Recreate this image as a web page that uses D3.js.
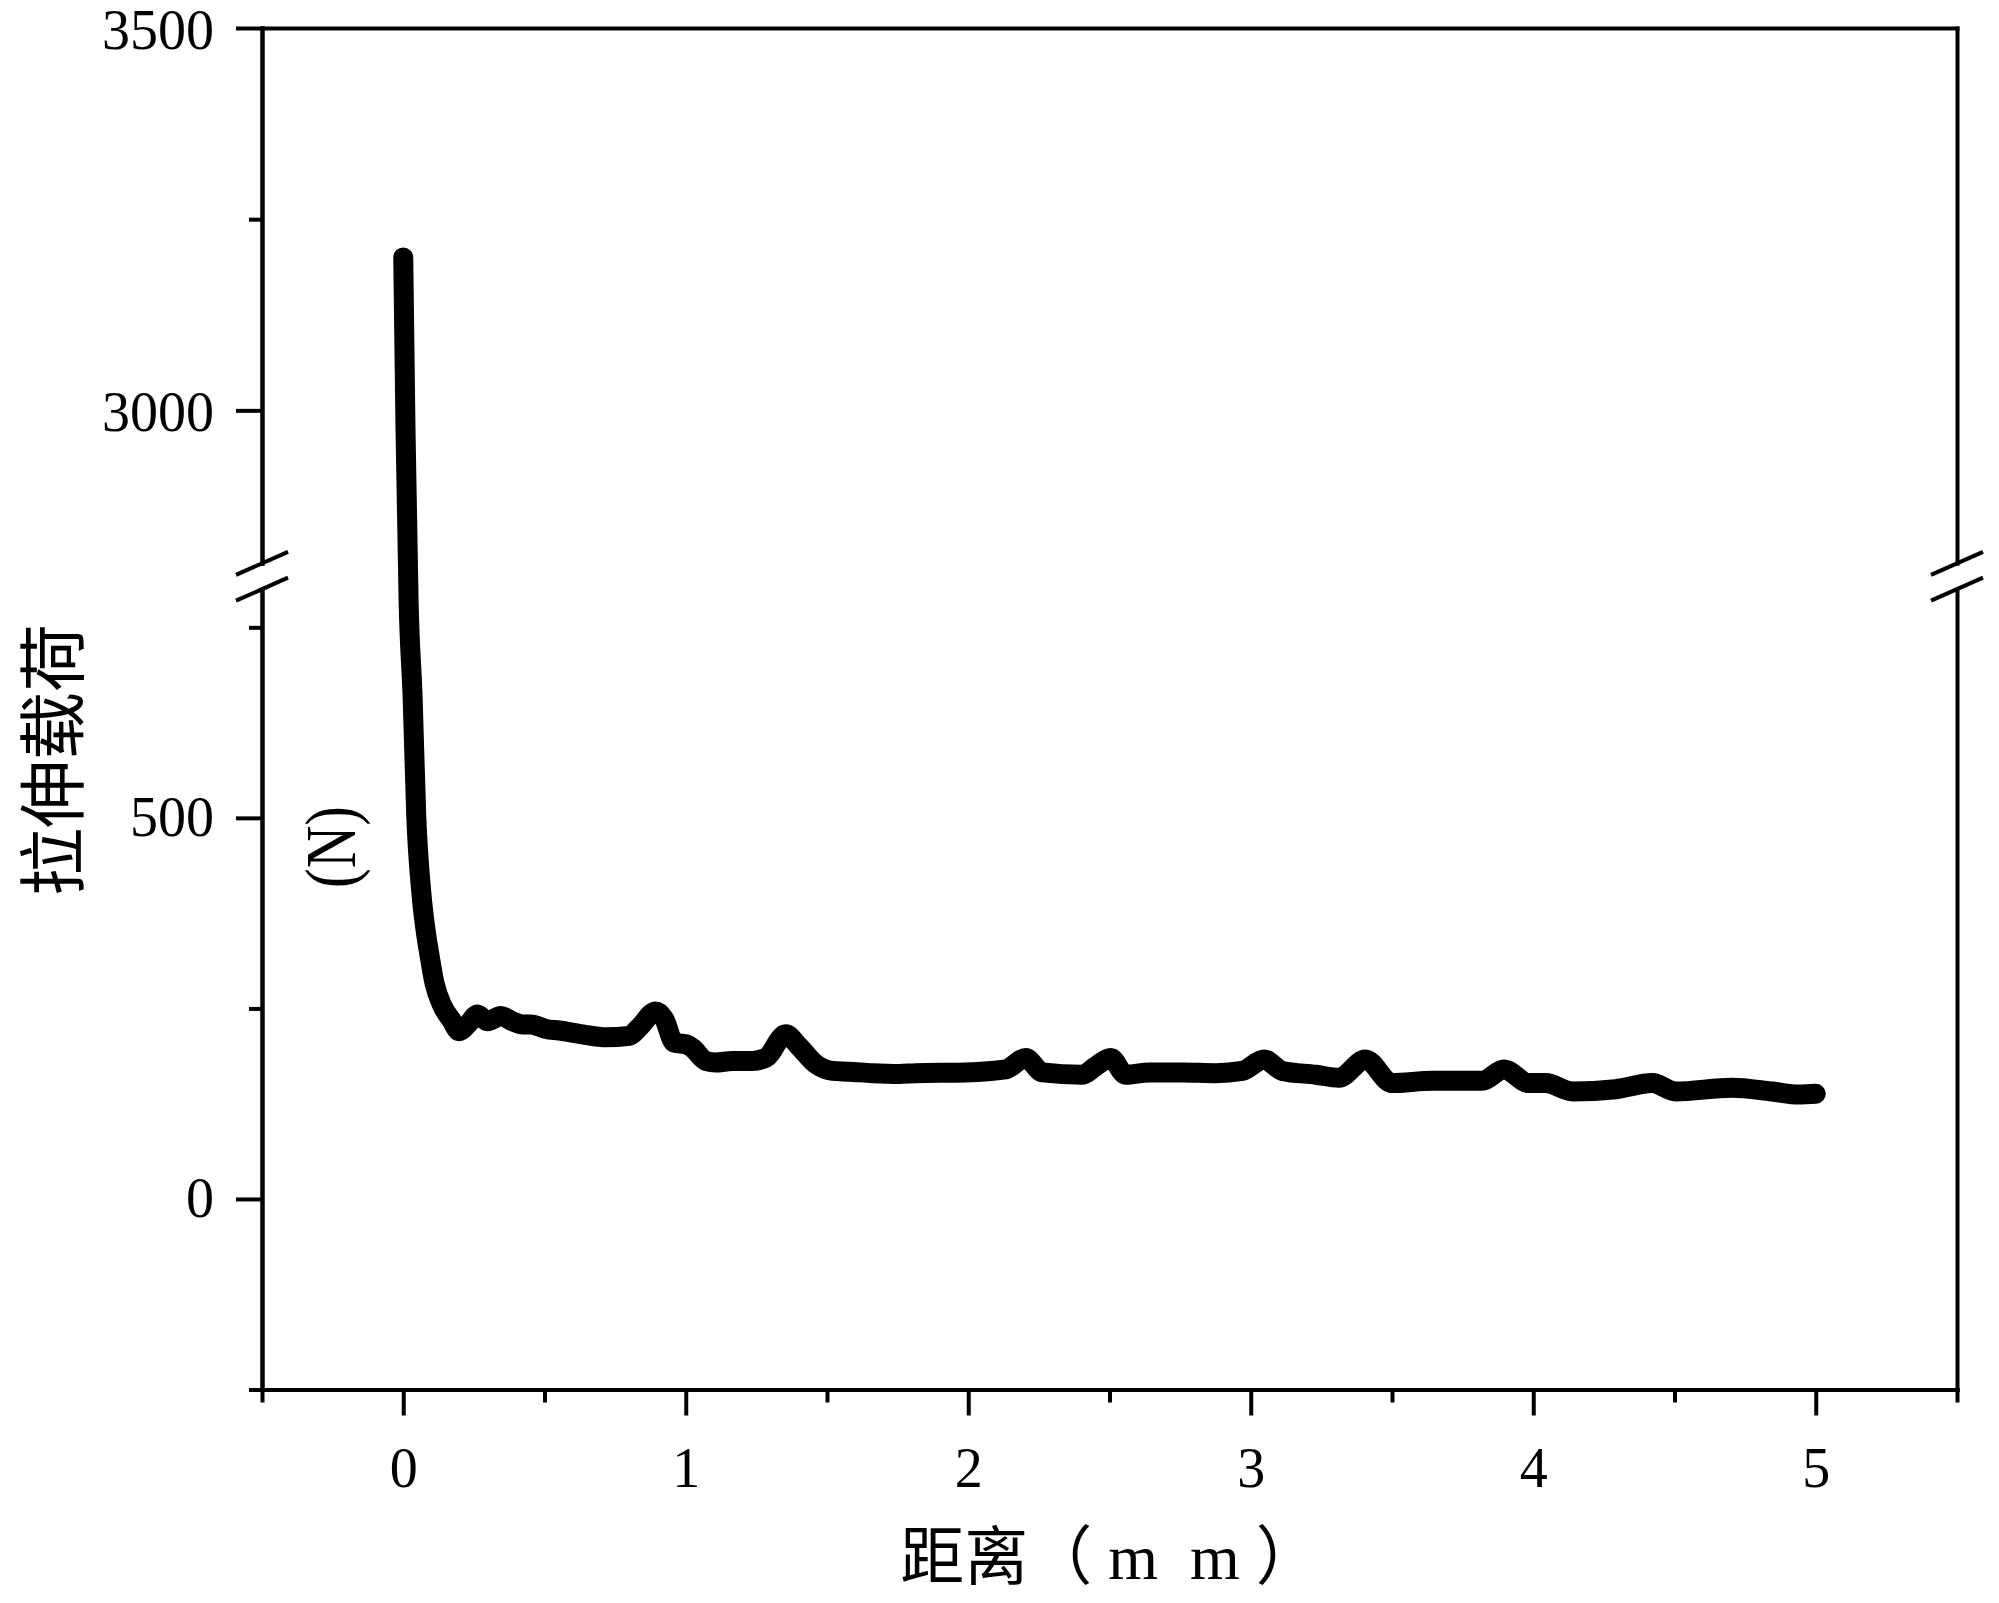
<!DOCTYPE html>
<html>
<head>
<meta charset="utf-8">
<script src="https://cdn.jsdelivr.net/npm/d3@7"></script>
<style>
  html, body { margin: 0; padding: 0; background: #fff; }
  svg { display: block; }
</style>
</head>
<body>
<svg id="chart" width="1999" height="1603"></svg>
<script>
// ---------------- data ----------------
const distance = [0.000, 0.008, 0.019, 0.033, 0.046, 0.064, 0.080, 0.092, 0.110, 0.139,
  0.170, 0.198, 0.228, 0.263, 0.298, 0.346, 0.387, 0.422, 0.452, 0.505,
  0.552, 0.634, 0.717, 0.800, 0.835, 0.894, 0.924, 0.959, 1.000, 1.024,
  1.071, 1.106, 1.165, 1.236, 1.283, 1.354, 1.401, 1.460, 1.519, 1.578,
  1.661, 1.755, 1.814, 1.991, 2.132, 2.203, 2.262, 2.404, 2.451, 2.504,
  2.557, 2.640, 2.758, 2.876, 2.970, 3.047, 3.112, 3.230, 3.312, 3.406,
  3.500, 3.642, 3.819, 3.896, 3.985, 4.044, 4.139, 4.292, 4.421, 4.504,
  4.704, 4.845, 4.940, 5.000];
const load = [3200, 2975, 783, 660, 503, 402, 350, 322, 284, 253,
  235, 220, 229, 242, 233, 240, 233, 229, 229, 223,
  221, 216, 212, 214, 225, 246, 236, 205, 203, 198,
  181, 179, 181, 181, 185, 216, 200, 177, 168, 167,
  165, 164, 165, 166, 170, 185, 166, 163, 174, 185,
  163, 166, 166, 165, 168, 183, 168, 163, 159, 183,
  152, 155, 155, 170, 152, 152, 141, 144, 152, 141,
  146, 141, 137, 138];

const xMajorTicks = [0, 1, 2, 3, 4, 5];
const xMinorTicks = [-0.5, 0.5, 1.5, 2.5, 3.5, 4.5, 5.5];
const yLowerMajor = [0, 500];
const yLowerMinor = [-250, 250, 750];
const yUpperMajor = [3000, 3500];
const yUpperMinor = [3250];
const xTitle = "距离（ m  m ）";
const yTitle = "拉伸载荷";
const yUnit = "(N)";

// ---------------- layout ----------------
const plotL = 262, plotR = 1957, plotT = 28, plotB = 1389.5;
const lowerTopPx = 589.2, upperBottomPx = 563.3;
const serif = "'Liberation Serif', 'DejaVu Serif', serif";
const cjk = "'Liberation Serif', 'Noto Sans CJK SC', sans-serif";

const svg = d3.select("#chart");
svg.append("rect").attr("width", 1999).attr("height", 1603).attr("fill", "#fff");

const x = d3.scaleLinear().domain([-0.5, 5.5]).range([plotL, plotR]);
const yLower = d3.scaleLinear().domain([-250, 800]).range([plotB, lowerTopPx]);
const yUpper = d3.scaleLinear().domain([2800, 3500]).range([upperBottomPx, plotT]);
const gapScale = d3.scaleLinear().domain([800, 2800]).range([lowerTopPx, upperBottomPx]);
function yPix(v) {
  if (v >= 2800) return yUpper(v);
  if (v <= 800) return yLower(v);
  return gapScale(v);
}

const axisW = 4;
function styleAxis(g, fontSize) {
  g.selectAll("line").attr("stroke", "#000").attr("stroke-width", axisW);
  g.selectAll("path.domain").attr("stroke", "#000").attr("stroke-width", axisW).attr("stroke-linecap", "square");
  g.selectAll("text").attr("fill", "#000").style("font-family", serif).style("font-size", fontSize + "px");
}

// ---- x axis ----
const gxMinor = svg.append("g").attr("transform", `translate(0,${plotB})`)
  .call(d3.axisBottom(x).tickValues(xMinorTicks).tickSize(13).tickSizeOuter(0).tickFormat(""));
styleAxis(gxMinor, 56);
const gx = svg.append("g").attr("transform", `translate(0,${plotB})`)
  .call(d3.axisBottom(x).tickValues(xMajorTicks).tickSize(26).tickSizeOuter(0).tickPadding(32).tickFormat(d3.format("d")));
styleAxis(gx, 56);

// ---- y axis lower ----
const gyLMinor = svg.append("g").attr("transform", `translate(${plotL},0)`)
  .call(d3.axisLeft(yLower).tickValues(yLowerMinor).tickSize(13).tickSizeOuter(0).tickFormat(""));
styleAxis(gyLMinor, 56);
const gyL = svg.append("g").attr("transform", `translate(${plotL},0)`)
  .call(d3.axisLeft(yLower).tickValues(yLowerMajor).tickSize(26).tickSizeOuter(0).tickPadding(22).tickFormat(d3.format("d")));
styleAxis(gyL, 56);

// ---- y axis upper ----
const gyUMinor = svg.append("g").attr("transform", `translate(${plotL},0)`)
  .call(d3.axisLeft(yUpper).tickValues(yUpperMinor).tickSize(13).tickSizeOuter(0).tickFormat(""));
styleAxis(gyUMinor, 56);
const gyU = svg.append("g").attr("transform", `translate(${plotL},0)`)
  .call(d3.axisLeft(yUpper).tickValues(yUpperMajor).tickSize(26).tickSizeOuter(0).tickPadding(22).tickFormat(d3.format("d")));
styleAxis(gyU, 56);
gyU.selectAll(".tick text").attr("dy", "0.36em");

// ---- right axis (no ticks) ----
const gR1 = svg.append("g").attr("transform", `translate(${plotR},0)`)
  .call(d3.axisRight(yLower).tickValues([]).tickSizeOuter(0));
styleAxis(gR1, 56);
const gR2 = svg.append("g").attr("transform", `translate(${plotR},0)`)
  .call(d3.axisRight(yUpper).tickValues([]).tickSizeOuter(0));
styleAxis(gR2, 56);

// ---- top frame ----
const gTop = svg.append("g").attr("transform", `translate(0,${plotT})`)
  .call(d3.axisTop(x).tickValues([]).tickSizeOuter(0));
styleAxis(gTop, 56);

// ---- break marks ----
[plotL, plotR].forEach(ax => {
  [upperBottomPx, lowerTopPx].forEach(cy => {
    svg.append("line")
      .attr("x1", ax - 26).attr("y1", cy + 11.5)
      .attr("x2", ax + 26).attr("y2", cy - 11.5)
      .attr("stroke", "#000").attr("stroke-width", axisW);
  });
});

// ---- data line ----
const pts = distance.map((d, i) => ({d: d, l: load[i]}));
const line = d3.line().x(p => x(p.d)).y(p => yPix(p.l)).curve(d3.curveMonotoneX);
svg.append("path").datum(pts)
  .attr("d", line)
  .attr("fill", "none").attr("stroke", "#000").attr("stroke-width", 20)
  .attr("stroke-linejoin", "round").attr("stroke-linecap", "round");

// ---- titles ----
svg.append("text")
  .attr("x", 1110).attr("y", 1557)
  .attr("text-anchor", "middle").attr("dominant-baseline", "central")
  .attr("xml:space", "preserve").style("white-space", "pre")
  .style("font-family", cjk).style("font-size", "64px")
  .text(xTitle);

svg.append("text")
  .attr("transform", "translate(48,760) rotate(-90)")
  .attr("text-anchor", "middle").attr("dominant-baseline", "central")
  .style("font-family", "'Noto Sans CJK SC', sans-serif").style("font-size", "68px")
  .text(yTitle);

svg.append("text")
  .attr("transform", "translate(331,847) rotate(-90)")
  .attr("text-anchor", "middle").attr("dominant-baseline", "central")
  .attr("textLength", 82).attr("lengthAdjust", "spacingAndGlyphs")
  .style("font-family", serif).style("font-size", "72px")
  .text(yUnit);
</script>
</body>
</html>
